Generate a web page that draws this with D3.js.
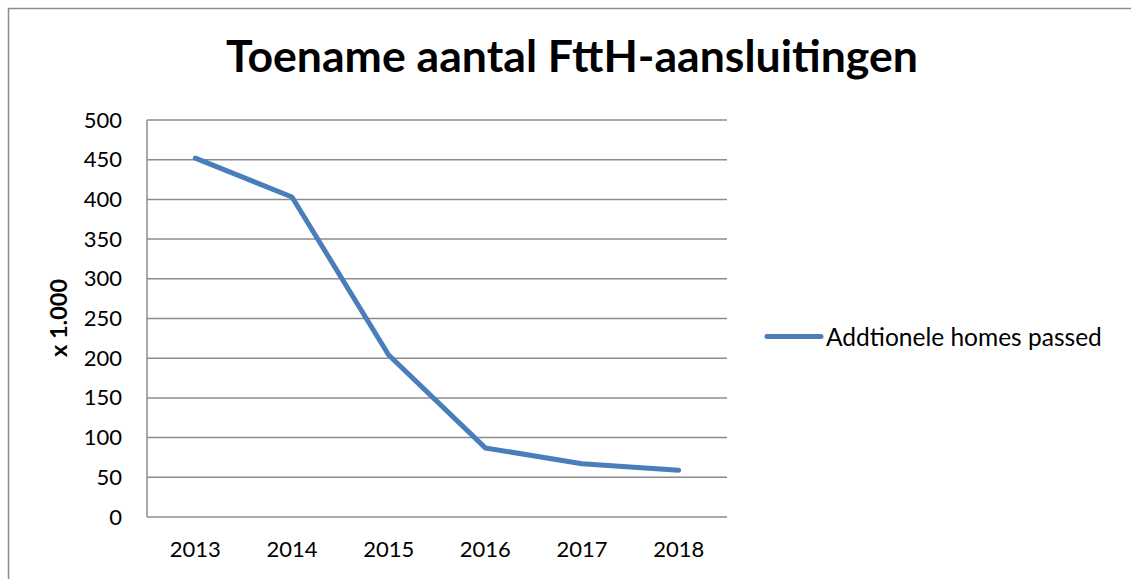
<!DOCTYPE html>
<html>
<head>
<meta charset="utf-8">
<script src="https://cdn.jsdelivr.net/npm/d3@7"></script>
<style>
  html, body { margin: 0; padding: 0; background: #fff; }
  svg { display: block; font-family: Lato, "Open Sans", sans-serif; }
</style>
</head>
<body>
<svg id="chart" width="1131" height="579"></svg>
<script>
// data (x 1.000 homes)
const years = ['2013', '2014', '2015', '2016', '2017', '2018'];
const homesPassed = [452, 403, 204, 87, 67, 59];
const yTicks = [0, 50, 100, 150, 200, 250, 300, 350, 400, 450, 500];
const seriesName = 'Addtionele homes passed';
const chartTitle = 'Toename aantal FttH-aansluitingen';
const yTitle = 'x 1.000';

const lineColor = '#4a7ebb';
const gridColor = '#8c8c8c';

const svg = d3.select('#chart');
const plot = { left: 147, right: 727, top: 120, bottom: 517 };

const x = d3.scaleBand().domain(years).range([plot.left, plot.right]);
const y = d3.scaleLinear().domain([0, 500]).range([plot.bottom, plot.top]);

// shrink/grow a text node's font-size until it spans the wanted width
function fitWidth(sel, width) {
  const node = sel.node();
  const size = parseFloat(sel.attr('font-size'));
  const w = node.getComputedTextLength();
  sel.attr('font-size', (size * width / w).toFixed(2));
}

// outer frame (only top and left edges visible in the crop)
svg.append('path')
  .attr('d', 'M8.5,579V8.5H1131')
  .attr('fill', 'none')
  .attr('stroke', gridColor)
  .attr('stroke-width', 1.5);

// gridlines
svg.append('g')
  .selectAll('line')
  .data(yTicks)
  .join('line')
  .attr('x1', plot.left)
  .attr('x2', plot.right)
  .attr('y1', d => y(d))
  .attr('y2', d => y(d))
  .attr('stroke', gridColor)
  .attr('stroke-width', 1.5);

// y axis line
svg.append('line')
  .attr('x1', plot.left).attr('x2', plot.left)
  .attr('y1', plot.top).attr('y2', plot.bottom)
  .attr('stroke', gridColor)
  .attr('stroke-width', 1.5);

// y tick labels
const yAxis = d3.axisLeft(y).tickValues(yTicks).tickSize(0).tickPadding(25);
svg.append('g')
  .attr('transform', `translate(${plot.left},0)`)
  .call(yAxis)
  .call(g => g.select('.domain').remove())
  .call(g => g.selectAll('text')
    .attr('font-family', 'Lato, sans-serif')
    .attr('font-size', 22)
    .attr('fill', '#000'));

// x tick labels
const xAxis = d3.axisBottom(x).tickSize(0).tickPadding(24);
svg.append('g')
  .attr('transform', `translate(0,${plot.bottom})`)
  .call(xAxis)
  .call(g => g.select('.domain').remove())
  .call(g => g.selectAll('text')
    .attr('font-family', 'Lato, sans-serif')
    .attr('font-size', 22)
    .attr('fill', '#000'));

// series line
const line = d3.line()
  .x((d, i) => x(years[i]) + x.bandwidth() / 2)
  .y(d => y(d));

svg.append('path')
  .datum(homesPassed)
  .attr('d', line)
  .attr('fill', 'none')
  .attr('stroke', lineColor)
  .attr('stroke-width', 5)
  .attr('stroke-linejoin', 'round')
  .attr('stroke-linecap', 'round');

// title
const title = svg.append('text')
  .attr('x', 572)
  .attr('y', 72)
  .attr('text-anchor', 'middle')
  .attr('font-weight', 'bold')
  .attr('font-size', 40)
  .attr('fill', '#000')
  .text(chartTitle);
fitWidth(title, 692);

// y axis title
const yt = svg.append('text')
  .attr('transform', 'translate(67,318) rotate(-90)')
  .attr('text-anchor', 'middle')
  .attr('font-weight', 'bold')
  .attr('font-size', 22)
  .attr('fill', '#000')
  .text(yTitle);
fitWidth(yt, 78);

// legend
const legend = svg.append('g').attr('transform', 'translate(767,336.5)');
legend.append('line')
  .attr('x1', 0).attr('x2', 54)
  .attr('y1', 0).attr('y2', 0)
  .attr('stroke', lineColor)
  .attr('stroke-width', 5)
  .attr('stroke-linecap', 'round');
const lt = legend.append('text')
  .attr('x', 59)
  .attr('y', 9)
  .attr('font-size', 25)
  .attr('fill', '#000')
  .text(seriesName);
fitWidth(lt, 276);
</script>
</body>
</html>
